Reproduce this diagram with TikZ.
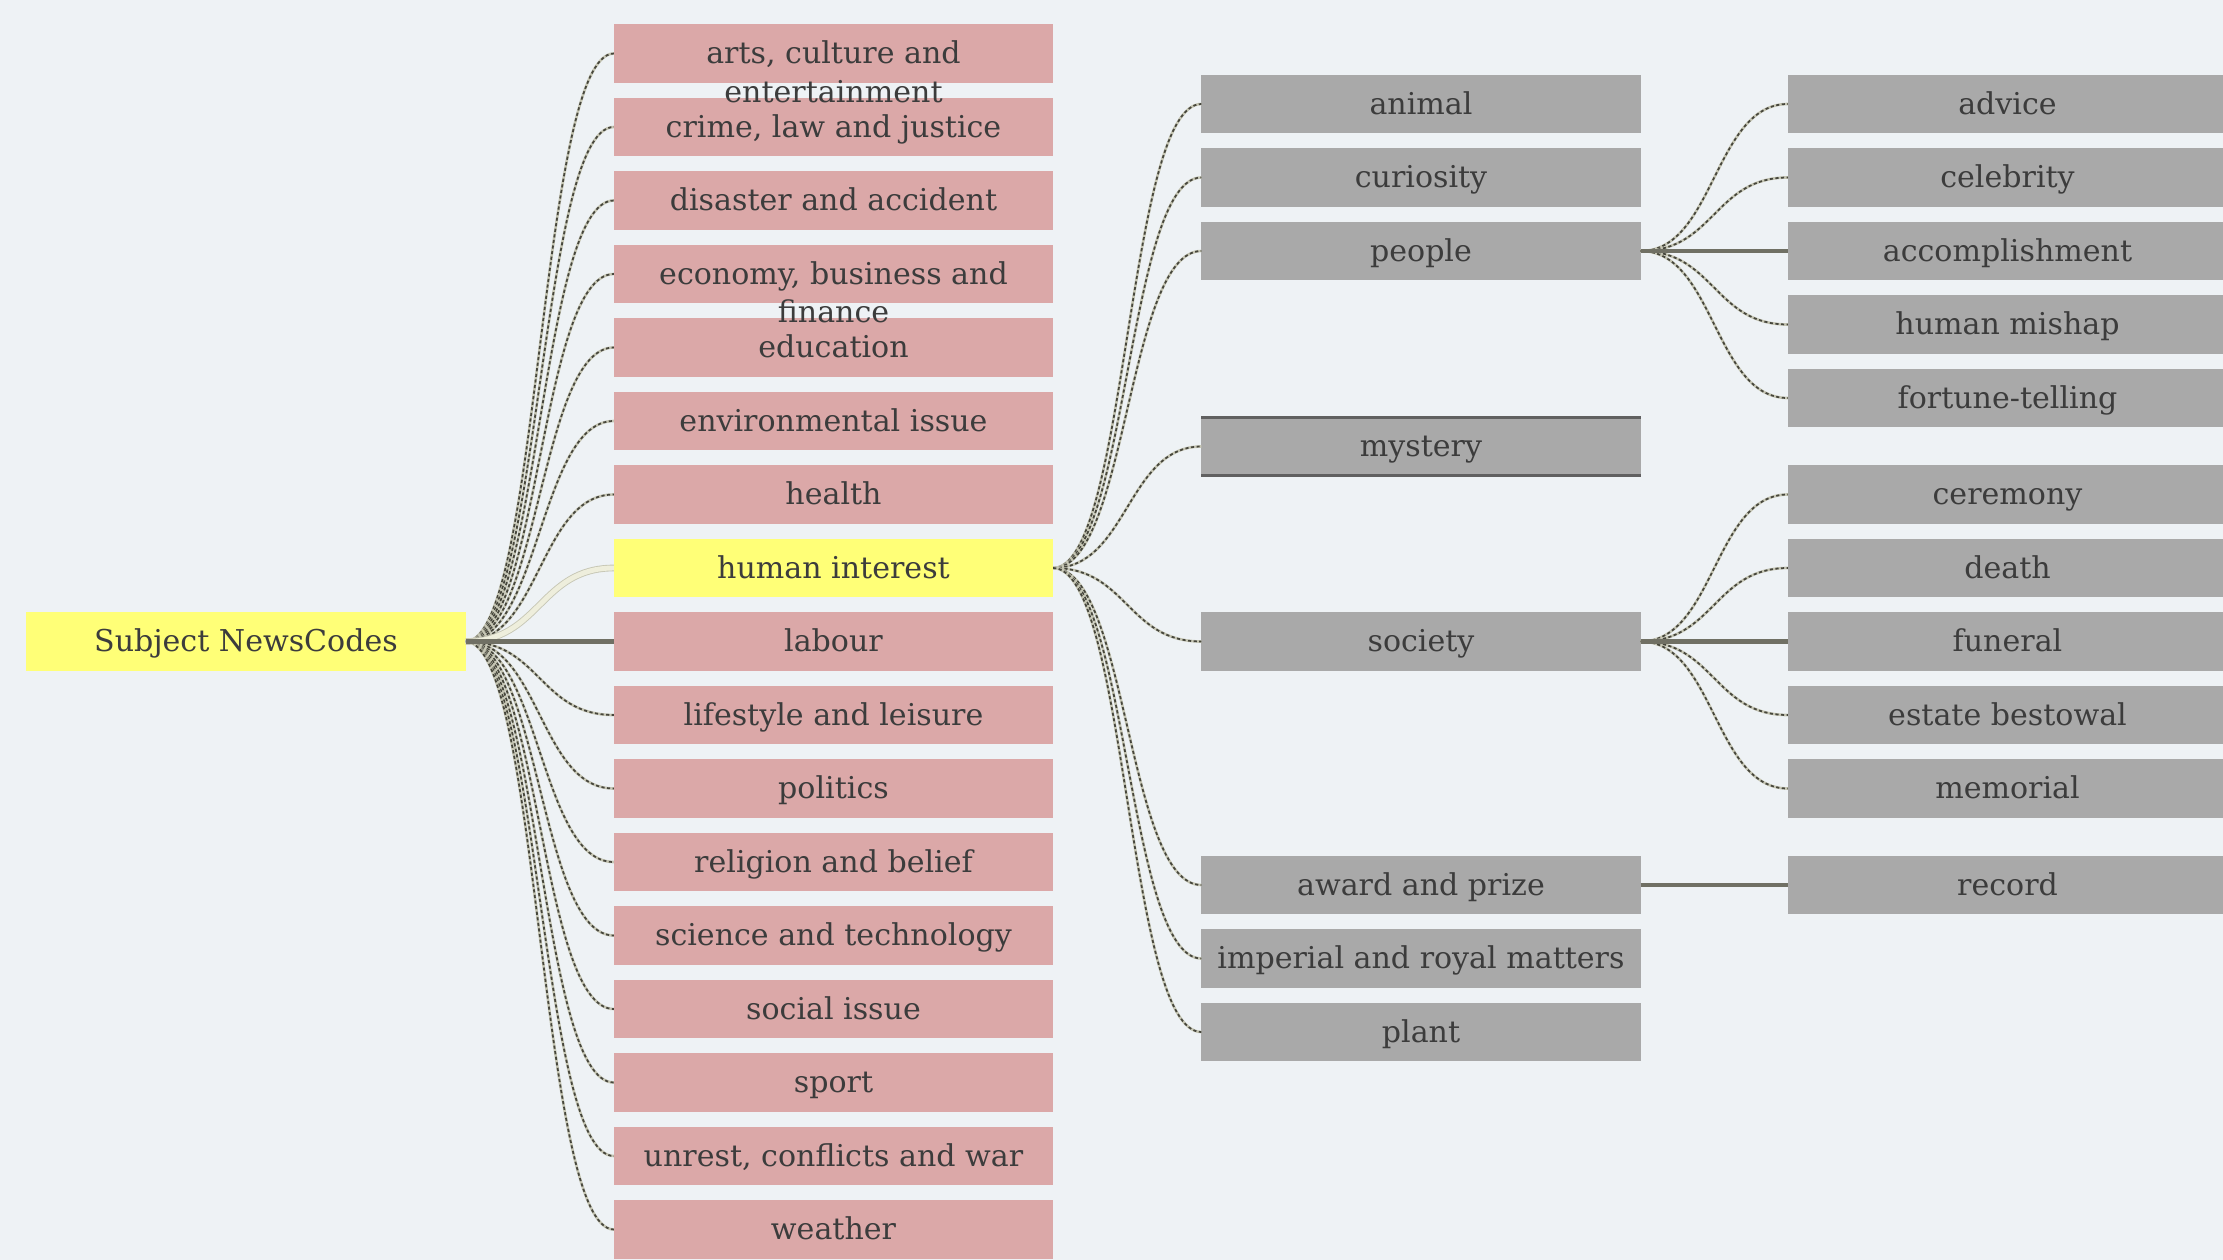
\documentclass[tikz,border=0pt]{standalone}
\usepackage{fontspec}
\setmainfont{DejaVu Serif}
\usepackage{tikz}
\usetikzlibrary{calc}
\definecolor{bgc}{HTML}{EEF2F5}
\definecolor{pinkc}{HTML}{DBA8A8}
\definecolor{hilitec}{HTML}{FFFF77}
\definecolor{greyc}{HTML}{A9A9A9}
\definecolor{txtc}{HTML}{3C3C3C}
\definecolor{linkdark}{HTML}{46463C}
\definecolor{linklight}{HTML}{C6C6B4}
\definecolor{trunkc}{HTML}{707064}
\definecolor{chosenc}{HTML}{EEEEDC}
\definecolor{rulec}{HTML}{606060}
\tikzstyle{box}=[minimum width=4.39cm, minimum height=0.58cm, inner sep=0pt, outer sep=0pt, text=txtc, text height=7pt, text depth=1.3pt, font=\fontsize{8.55}{10.5}\selectfont]
\tikzstyle{topic}=[box, fill=pinkc]
\tikzstyle{picked}=[box, fill=hilitec]
\tikzstyle{sub}=[box, fill=greyc]
\tikzstyle{spill}=[inner sep=0pt, text=txtc, text height=7pt, text depth=1.3pt, font=\fontsize{8.55}{10.5}\selectfont]
\tikzstyle{link}=[draw=linklight, line width=0.75pt, postaction={draw=linkdark, line width=0.5pt, dash pattern=on 0.9pt off 0.7pt}]
\tikzstyle{trunk}=[draw=trunkc, line width=1.4pt]
\tikzstyle{chosen}=[draw=chosenc, line width=1.4pt, preaction={draw=linklight, line width=1.9pt}]
\newcommand\branch[3][link]{\draw[#1] (#2.east) .. controls ($(#2.east)!.5!(#3.west|-#2.east)$) and ($(#2.east|-#3.west)!.5!(#3.west)$) .. (#3.west);}

\begin{document}
\begin{tikzpicture}[x=0.01cm, y=-0.01cm]
\fill[bgc] (0,0) rectangle (2223,1260);
\useasboundingbox (0,0) rectangle (2223,1260);
% root
\node[picked] (root) at (246,641.5) {Subject NewsCodes};
% top level subjects
\node[topic] (arts) at (833.5,53.5) {arts, culture and};
\node[topic] (crime) at (833.5,127) {crime, law and justice};
\node[topic] (disaster) at (833.5,200.5) {disaster and accident};
\node[topic] (economy) at (833.5,274) {economy, business and};
\node[topic] (education) at (833.5,347.5) {education};
\node[topic] (environ) at (833.5,421) {environmental issue};
\node[topic] (health) at (833.5,494.5) {health};
\node[picked] (human) at (833.5,568) {human interest};
\node[topic] (labour) at (833.5,641.5) {labour};
\node[topic] (lifestyle) at (833.5,715) {lifestyle and leisure};
\node[topic] (politics) at (833.5,788.5) {politics};
\node[topic] (religion) at (833.5,862) {religion and belief};
\node[topic] (science) at (833.5,935.5) {science and technology};
\node[topic] (social) at (833.5,1009) {social issue};
\node[topic] (sport) at (833.5,1082.5) {sport};
\node[topic] (unrest) at (833.5,1156) {unrest, conflicts and war};
\node[topic] (weather) at (833.5,1229.5) {weather};
\node[spill] (arts2) at (833.5,92) {entertainment};
\node[spill] (economy2) at (833.5,312) {finance};
% human interest
\node[sub] (animal) at (1421,104) {animal};
\node[sub] (curiosity) at (1421,177.5) {curiosity};
\node[sub] (people) at (1421,251) {people};
\node[sub] (mystery) at (1421,446.5) {mystery};
\node[sub] (society) at (1421,641.5) {society};
\node[sub] (award) at (1421,885) {award and prize};
\node[sub] (imperial) at (1421,958.5) {imperial and royal matters};
\node[sub] (plant) at (1421,1032) {plant};
\draw[rulec, line width=0.85pt] (mystery.north west) -- (mystery.north east);
\draw[rulec, line width=0.85pt] (mystery.south west) -- (mystery.south east);
% third level
\node[sub] (advice) at (2007.5,104) {advice};
\node[sub] (celebrity) at (2007.5,177.5) {celebrity};
\node[sub] (accomp) at (2007.5,251) {accomplishment};
\node[sub] (mishap) at (2007.5,324.5) {human mishap};
\node[sub] (fortune) at (2007.5,398) {fortune-telling};
\node[sub] (ceremony) at (2007.5,494.5) {ceremony};
\node[sub] (death) at (2007.5,568) {death};
\node[sub] (funeral) at (2007.5,641.5) {funeral};
\node[sub] (estate) at (2007.5,715) {estate bestowal};
\node[sub] (memorial) at (2007.5,788.5) {memorial};
\node[sub] (record) at (2007.5,885) {record};
% links
\branch{root}{arts}
\branch{root}{crime}
\branch{root}{disaster}
\branch{root}{economy}
\branch{root}{education}
\branch{root}{environ}
\branch{root}{health}
\branch{root}{lifestyle}
\branch{root}{politics}
\branch{root}{religion}
\branch{root}{science}
\branch{root}{social}
\branch{root}{sport}
\branch{root}{unrest}
\branch{root}{weather}
\branch[chosen]{root}{human}
\draw[trunk] (root) -- (labour);
\branch{human}{animal}
\branch{human}{curiosity}
\branch{human}{people}
\branch{human}{mystery}
\branch{human}{society}
\branch{human}{award}
\branch{human}{imperial}
\branch{human}{plant}
\branch{people}{advice}
\branch{people}{celebrity}
\branch{people}{mishap}
\branch{people}{fortune}
\draw[trunk] (people) -- (accomp);
\branch{society}{ceremony}
\branch{society}{death}
\branch{society}{estate}
\branch{society}{memorial}
\draw[trunk] (society) -- (funeral);
\draw[trunk] (award) -- (record);
\end{tikzpicture}
\end{document}
